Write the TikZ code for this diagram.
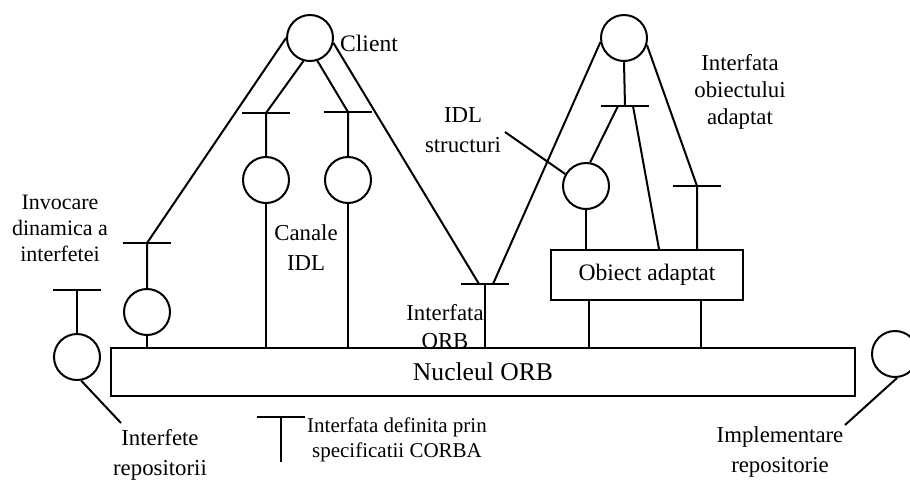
\documentclass[tikz,border=0pt]{standalone}
\usepackage{fontspec}
\setmainfont{Liberation Serif}
\begin{document}
\begin{tikzpicture}[x=0.5pt,y=-0.5pt,line width=1pt,
  iface/.style={circle,draw,minimum size=23pt,inner sep=0pt},
  lbl/.style={align=center,inner sep=0pt,font=\fontsize{11}{13}\selectfont},
  tbar/.pic={\draw (-24,0) -- (24,0);}]
\useasboundingbox (0,0) rectangle (910,479);

% interface objects (circles)
\node[iface] (client)    at (310,38)  {};
\node[iface] (objimpl)   at (624,38)  {};
\node[iface] (canal1)    at (266,180) {};
\node[iface] (canal2)    at (348,180) {};
\node[iface] (structidl) at (586,186) {};
\node[iface] (dii)       at (147,312) {};
\node[iface] (irepo)     at (77,357)  {};
\node[iface] (implrepo)  at (895,354) {};

% ORB core and adapted object
\node[draw,minimum width=372pt,minimum height=24pt,inner sep=0pt,
      font=\fontsize{12.8}{14}\selectfont] (orb) at (483,372) {Nucleul ORB};
\node[draw,minimum width=96pt,minimum height=25pt,inner sep=0pt,
      font=\fontsize{11.8}{13}\selectfont] (adapt) at (647,275) {Obiect adaptat};

% CORBA interface junctions
\coordinate (tdii)  at (147,243);
\coordinate (tc1)   at (266,113);
\coordinate (tc2)   at (348,112);
\coordinate (torb)  at (485,284);
\coordinate (torbl) at (479,284);
\coordinate (torbr) at (493,284);
\coordinate (tobj)  at (625,106);
\coordinate (tobjl) at (618,106);
\coordinate (tobjr) at (633,106);
\coordinate (tadp)  at (697,186);
\coordinate (trepo) at (77,290);
\coordinate (tleg)  at (281,417);
\coordinate (tlegb) at (281,462);
\coordinate (skel)  at (659,0);
\coordinate (adl)   at (589,0);
\coordinate (adr)   at (701,0);
\coordinate (prepo) at (121,423);
\coordinate (pimpl) at (845,425);
\coordinate (pidl)  at (505,132);

\foreach \t in {tdii,tc1,tc2,torb,tobj,tadp,trepo,tleg}
  \pic at (\t) {tbar};

% client side
\draw (client.west) -- (tdii) -- (dii.north);
\draw (dii.south) -- (dii.south |- orb.north);
\draw (client.-106) -- (tc1) -- (canal1.north);
\draw (canal1.south) -- (canal1.south |- orb.north);
\draw (client.-72) -- (tc2) -- (canal2.north);
\draw (canal2.south) -- (canal2.south |- orb.north);
\draw (client.-12) -- (torbl);
\draw (torb) -- (torb |- orb.north);

% object implementation side
\draw (objimpl.190) -- (torbr);
\draw (objimpl.-17) -- (tadp) -- (tadp |- adapt.north);
\draw (objimpl.south) -- (tobj);
\draw (tobjl) -- (structidl.80);
\draw (tobjr) -- (skel |- adapt.north);
\draw (structidl.south) -- (structidl.south |- adapt.north);
\draw (adl |- adapt.south) -- (adl |- orb.north);
\draw (adr |- adapt.south) -- (adr |- orb.north);

% repositories
\draw (irepo.north) -- (trepo);
\draw (irepo.-80) -- (prepo);
\draw (implrepo.-85) -- (pimpl);
\draw (structidl.150) -- (pidl);

% legend
\draw (tleg) -- (tlegb);

% labels
\node[lbl,font=\fontsize{11.8}{13}\selectfont] (lclient) at (369,43) {Client};
\node[lbl] (ldii) at (60,228) {Invocare\\dinamica a\\interfetei};
\node[lbl,font=\fontsize{11.4}{15}\selectfont] (lcanal) at (306,248) {Canale\\IDL};
\node[lbl,font=\fontsize{11.4}{15}\selectfont] (lidl) at (463,130) {IDL\\structuri};
\node[lbl,font=\fontsize{11.4}{14}\selectfont] (lorb) at (445,327) {Interfata\\ORB};
\node[lbl,font=\fontsize{11.4}{13.5}\selectfont] (lobj) at (740,92) {Interfata\\obiectului\\adaptat};
\node[lbl,font=\fontsize{11.4}{15}\selectfont] (lrepo) at (160,455) {Interfete\\repositorii};
\node[lbl,font=\fontsize{11.4}{15}\selectfont] (limpl) at (780,452) {Implementare\\repositorie};
\node[lbl,font=\fontsize{10.5}{12.5}\selectfont] (lleg) at (397,440) {Interfata definita prin\\specificatii CORBA};
\end{tikzpicture}
\end{document}
